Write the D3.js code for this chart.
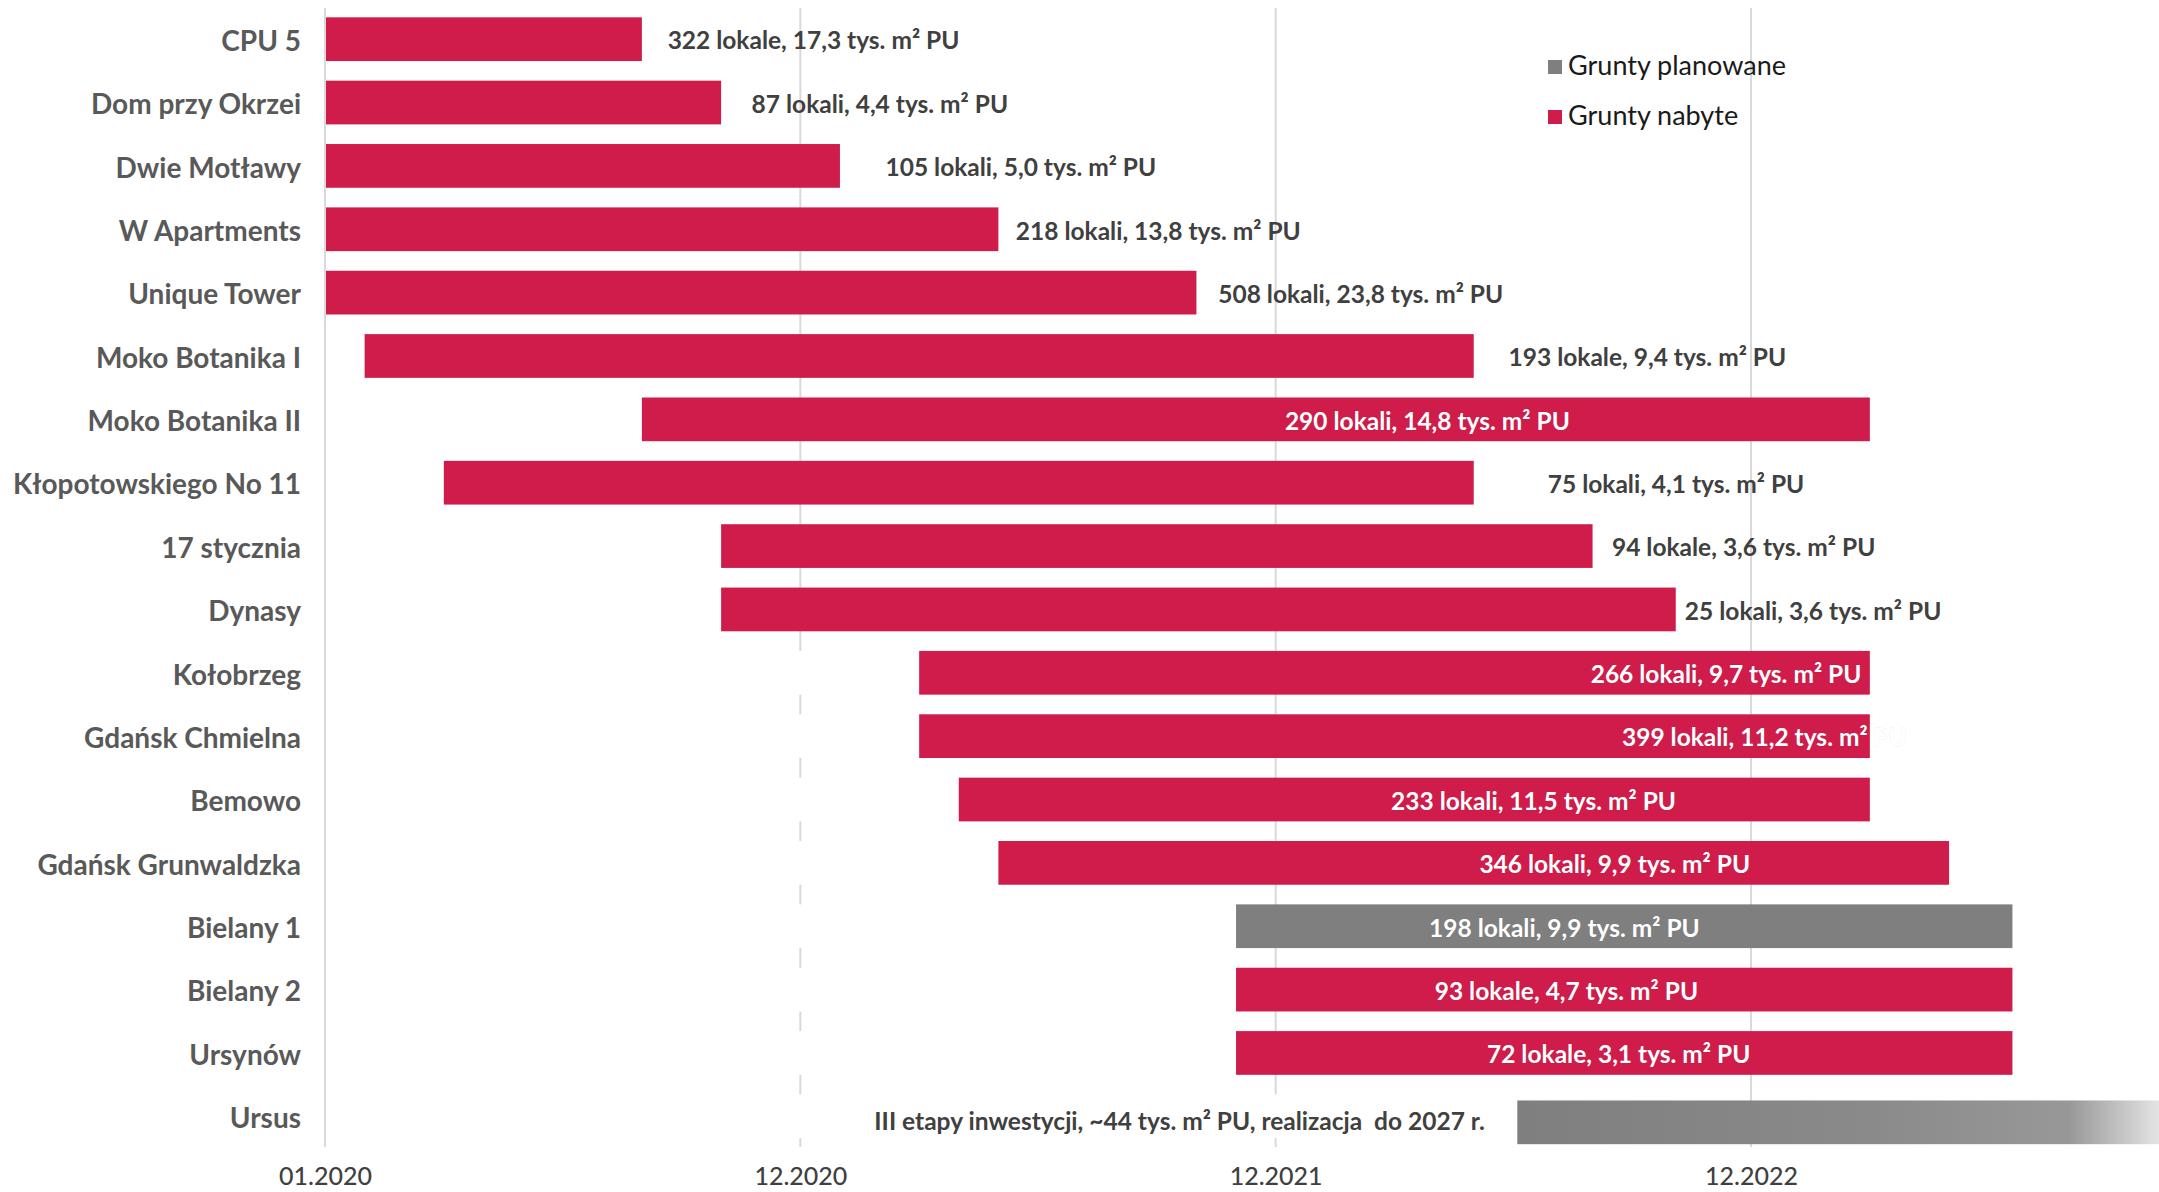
<!DOCTYPE html>
<html>
<head>
<meta charset="utf-8">
<script src="https://cdnjs.cloudflare.com/ajax/libs/d3/7.8.5/d3.min.js"></script>
<style>
    body { margin: 0; background: #fff; }
    svg { display: block; font-family: Lato, Roboto, "Noto Sans", sans-serif; }
</style>
</head>
<body>
<svg id="chart"></svg>
<script>
// Chart data (months counted from 01.2020)
const categories = [
    "CPU 5", "Dom przy Okrzei", "Dwie Motławy", "W Apartments", "Unique Tower",
    "Moko Botanika I", "Moko Botanika II", "Kłopotowskiego No 11", "17 stycznia",
    "Dynasy", "Kołobrzeg", "Gdańsk Chmielna", "Bemowo", "Gdańsk Grunwaldzka",
    "Bielany 1", "Bielany 2", "Ursynów", "Ursus"
];
const startMonth = [0, 0, 0, 0, 0, 1, 8, 3, 10, 10, 15, 15, 16, 17, 23, 23, 23, 30.1];
const endMonth = [8, 10, 13, 17, 22, 29, 39, 29, 32, 34.1, 39, 39, 39, 41, 42.6, 42.6, 42.6, 46.4];
const landStatus = [
    "nabyte", "nabyte", "nabyte", "nabyte", "nabyte", "nabyte", "nabyte", "nabyte", "nabyte",
    "nabyte", "nabyte", "nabyte", "nabyte", "nabyte", "planowane", "nabyte", "nabyte", "etapy"
];
const barLabels = [
    "322 lokale, 17,3 tys. m² PU", "87 lokali, 4,4 tys. m² PU", "105 lokali, 5,0 tys. m² PU",
    "218 lokali, 13,8 tys. m² PU", "508 lokali, 23,8 tys. m² PU", "193 lokale, 9,4 tys. m² PU",
    "290 lokali, 14,8 tys. m² PU", "75 lokali, 4,1 tys. m² PU", "94 lokale, 3,6 tys. m² PU",
    "25 lokali, 3,6 tys. m² PU", "266 lokali, 9,7 tys. m² PU", "399 lokali, 11,2 tys. m² PU",
    "233 lokali, 11,5 tys. m² PU", "346 lokali, 9,9 tys. m² PU", "198 lokali, 9,9 tys. m² PU",
    "93 lokale, 4,7 tys. m² PU", "72 lokale, 3,1 tys. m² PU",
    "III etapy inwestycji, ~44 tys. m² PU, realizacja  do 2027 r."
];
// Where each label sits (in months) and how it is anchored there
const labelMonth = [8.65, 10.77, 14.15, 17.44, 22.55, 29.88, 27.83, 30.87, 32.49, 34.33,
    35.37, 36.34, 30.51, 32.56, 31.29, 31.34, 32.66, 29.28];
const labelAlign = ["start", "start", "start", "start", "start", "start", "middle", "start", "start",
    "start", "middle", "middle", "middle", "middle", "middle", "middle", "middle", "end"];
const tickMonths = [0, 12, 24, 36];
const tickLabels = ["01.2020", "12.2020", "12.2021", "12.2022"];
const legendItems = ["Grunty planowane", "Grunty nabyte"];

class GanttChart {
    constructor() {
        this.init();
    }

    init() {
        this.width = 2159;
        this.height = 1192;
        this.colors = { nabyte: "#cf1c4a", planowane: "#7f7f7f" };

        this.svg = d3.select("#chart")
            .attr("width", this.width)
            .attr("height", this.height);

        this.x = d3.scaleLinear().domain([0, 46.3]).range([325, 2159]);
        this.y = d3.scaleBand().domain(categories).range([7.5, 1148])
            .paddingInner(0.31).paddingOuter(0.155);

        this.rows = categories.map((name, i) => ({
            name: name,
            start: startMonth[i],
            end: endMonth[i],
            status: landStatus[i],
            label: barLabels[i],
            labelAt: labelMonth[i],
            align: labelAlign[i]
        }));

        this.addGradient();
        this.drawGrid();
        this.drawBars();
        this.drawAxes();
        this.drawLabels();
        this.drawLegend();
    }

    // Fading gray for the long-term Ursus stages
    addGradient() {
        const grad = this.svg.append("defs").append("linearGradient")
            .attr("id", "fade")
            .attr("x1", "0").attr("x2", "1").attr("y1", "0").attr("y2", "0");
        [[0, "#7f7f7f"], [0.55, "#8a8a8a"], [0.86, "#989898"], [1, "#e4e4e4"]].forEach(s => {
            grad.append("stop").attr("offset", s[0]).attr("stop-color", s[1]);
        });
    }

    drawGrid() {
        this.svg.append("g")
            .selectAll("line")
            .data(tickMonths.slice(1))
            .join("line")
            .attr("x1", d => this.x(d))
            .attr("x2", d => this.x(d))
            .attr("y1", 8)
            .attr("y2", 1147)
            .attr("stroke", "#d9d9d9")
            .attr("stroke-width", 2);
    }

    drawBars() {
        const bw = this.y.bandwidth();

        // Invisible (white) lead-in part of each stacked bar
        this.svg.append("g")
            .selectAll("rect")
            .data(this.rows.filter(d => d.start > 0))
            .join("rect")
            .attr("x", this.x(0))
            .attr("y", d => this.y(d.name))
            .attr("width", d => this.x(d.start) - this.x(0))
            .attr("height", bw)
            .attr("fill", "#fff");

        this.svg.append("g")
            .selectAll("rect")
            .data(this.rows)
            .join("rect")
            .attr("x", d => this.x(d.start))
            .attr("y", d => this.y(d.name) + (d.status === "etapy" ? 6 : 0))
            .attr("width", d => Math.min(this.x(d.end), this.width) - this.x(d.start))
            .attr("height", bw)
            .attr("fill", d => d.status === "etapy" ? "url(#fade)" : this.colors[d.status]);
    }

    drawAxes() {
        // Category axis line
        this.svg.append("line")
            .attr("x1", this.x(0)).attr("x2", this.x(0))
            .attr("y1", 8).attr("y2", 1147)
            .attr("stroke", "#d9d9d9")
            .attr("stroke-width", 2);

        const yAxis = this.svg.append("g")
            .attr("transform", `translate(${this.x(0) - 24},0)`)
            .call(d3.axisLeft(this.y).tickSize(0).tickPadding(0));
        yAxis.select(".domain").remove();
        yAxis.selectAll("text")
            .attr("dy", "0.42em")
            .attr("font-size", 28)
            .attr("font-weight", 700)
            .attr("fill", "#595959")
            .attr("font-family", "Lato, Roboto, sans-serif");

        const xAxis = this.svg.append("g")
            .attr("transform", "translate(0,1160)")
            .call(d3.axisBottom(this.x)
                .tickValues(tickMonths)
                .tickFormat((d, i) => tickLabels[i])
                .tickSize(0)
                .tickPadding(0));
        xAxis.select(".domain").remove();
        xAxis.selectAll("text")
            .attr("dy", "0.35em")
            .attr("y", 16)
            .attr("font-size", 25)
            .attr("font-weight", 500)
            .attr("fill", "#404040")
            .attr("font-family", "Lato, Roboto, sans-serif");
    }

    drawLabels() {
        const bw = this.y.bandwidth();
        this.svg.append("g")
            .selectAll("text")
            .data(this.rows)
            .join("text")
            .attr("x", d => this.x(d.labelAt))
            .attr("y", d => this.y(d.name) + bw / 2 + (d.status === "etapy" ? 3 : 0))
            .attr("dy", "0.42em")
            .attr("text-anchor", d => d.align)
            .attr("font-size", 24.5)
            .attr("font-weight", 700)
            .style("white-space", "pre")
            .attr("fill", d => this.isInside(d) ? "#fff" : "#404040")
            // faint outline so white text stays readable where it leaves the bar
            .attr("stroke", d => this.isInside(d) ? "rgba(0,0,0,0.07)" : "none")
            .attr("stroke-width", 1.2)
            .attr("paint-order", "stroke")
            .text(d => d.label);
    }

    isInside(d) {
        return d.labelAt > d.start && d.labelAt < d.end;
    }

    drawLegend() {
        const legendColors = [this.colors.planowane, this.colors.nabyte];
        const item = this.svg.append("g")
            .selectAll("g")
            .data(legendItems)
            .join("g")
            .attr("transform", (d, i) => `translate(1548,${60 + i * 50})`);

        item.append("rect")
            .attr("width", 14)
            .attr("height", 14)
            .attr("fill", (d, i) => legendColors[i]);

        item.append("text")
            .attr("x", 20)
            .attr("y", 15)
            .attr("font-size", 27)
            .attr("fill", "#1a1a1a")
            .text(d => d);
    }
}

let chart = new GanttChart();
</script>
</body>
</html>
